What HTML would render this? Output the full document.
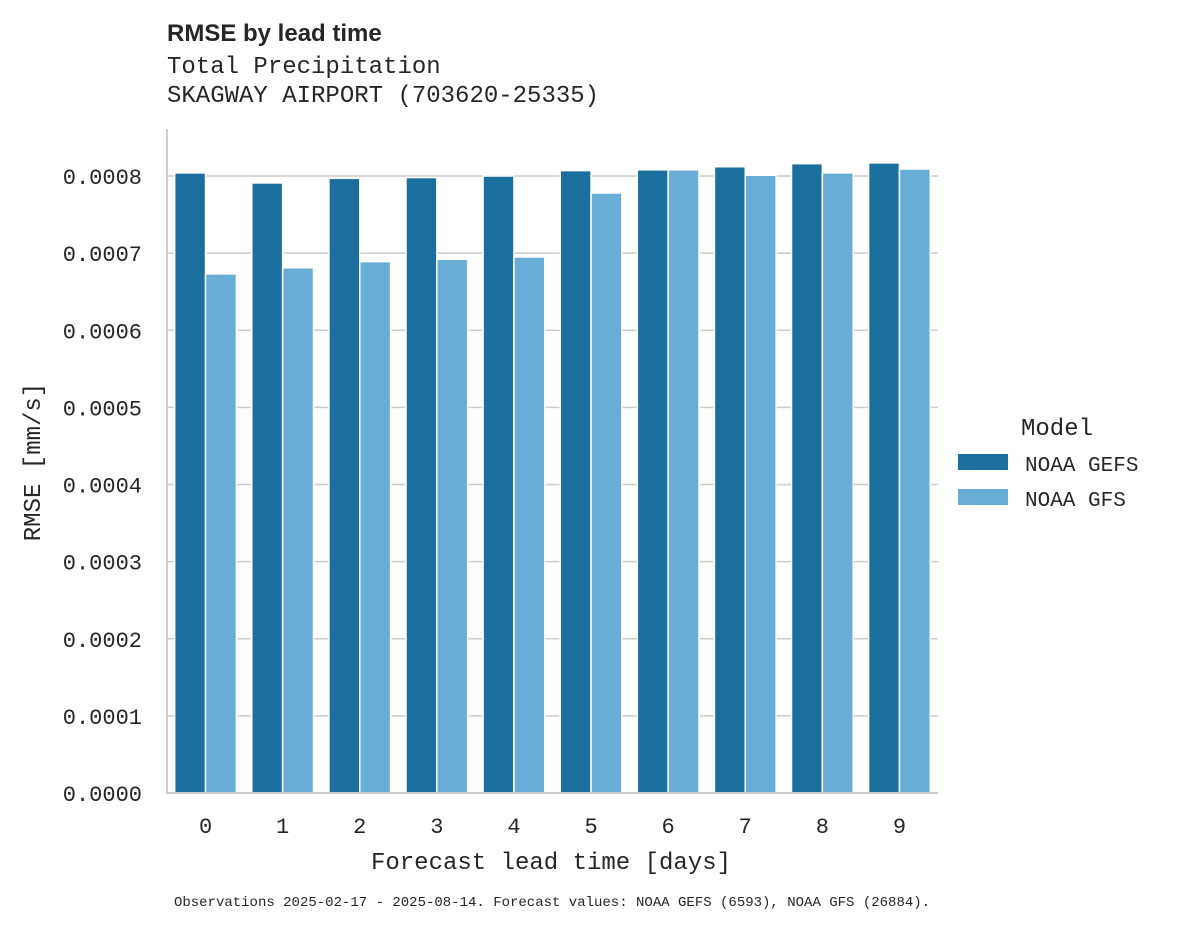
<!DOCTYPE html>
<html><head><meta charset="utf-8"><style>
body{margin:0;background:#fff;}
svg text{font-family:"Liberation Mono","DejaVu Sans Mono",monospace;fill:#262626;}
</style></head><body>
<svg id="chart" width="1178" height="928" xmlns="http://www.w3.org/2000/svg">
<text x="167" y="41" font-size="24" font-weight="bold" font-family="Liberation Sans, sans-serif" style="font-family:'Liberation Sans',sans-serif">RMSE by lead time</text>
<text x="167" y="73" font-size="24">Total Precipitation</text>
<text x="167" y="102" font-size="24">SKAGWAY AIRPORT (703620-25335)</text>
<g id="grid"></g>
<g id="bars"></g>
<line x1="167" y1="129" x2="167" y2="794" stroke="#cccccc" stroke-width="2"/>
<line x1="166" y1="793" x2="938" y2="793" stroke="#cccccc" stroke-width="2"/>
<g id="yticks"></g>
<g id="xticks"></g>
<text x="551" y="869" font-size="24" text-anchor="middle">Forecast lead time [days]</text>
<text transform="translate(40,462) rotate(-90)" font-size="24" text-anchor="middle">RMSE [mm/s]</text>
<g>
<text x="1057" y="435" font-size="24" text-anchor="middle">Model</text>
<rect x="958" y="454" width="50" height="16" fill="#1a6f9f"/>
<text x="1025" y="471" font-size="21">NOAA GEFS</text>
<rect x="958" y="489" width="50" height="16" fill="#67add5"/>
<text x="1025" y="506" font-size="21">NOAA GFS</text>
</g>
<text x="552" y="906" font-size="14" text-anchor="middle">Observations 2025-02-17 - 2025-08-14. Forecast values: NOAA GEFS (6593), NOAA GFS (26884).</text>
</svg>
<script>
const categories=["0","1","2","3","4","5","6","7","8","9"];
const gefsValues=[0.000804,0.000791,0.000797,0.000798,0.000800,0.000807,0.000808,0.000812,0.000816,0.000817];
const gfsValues=[0.000673,0.000681,0.000689,0.000692,0.000695,0.000778,0.000808,0.000801,0.000804,0.000809];
const yTickValues=[0,0.0001,0.0002,0.0003,0.0004,0.0005,0.0006,0.0007,0.0008];
const NS="http://www.w3.org/2000/svg";
const x0=167,x1=938,yBase=793,yTop8=176;
function yScale(v){return yBase-(v/0.0008)*(yBase-yTop8);}
const band=(x1-x0)/categories.length;
function xCenter(i){return x0+band*(i+0.5);}
function mk(tag,attrs){const e=document.createElementNS(NS,tag);for(const k in attrs)e.setAttribute(k,attrs[k]);return e;}
const grid=document.getElementById('grid'),yt=document.getElementById('yticks');
yTickValues.forEach(v=>{
  const y=yScale(v);
  if(v>0){const l=mk('line',{x1:x0,x2:x1,y1:y,y2:y,stroke:'#cccccc','stroke-width':1.5});
  
  
  grid.appendChild(l);}
  const t=mk('text',{x:142,y:y+8,'font-size':22,'text-anchor':'end'});
  t.textContent=v.toFixed(4);
  
  
  yt.appendChild(t);
});
const bars=document.getElementById('bars'),xt=document.getElementById('xticks');
const bw=band*0.8/2;
categories.forEach((c,i)=>{
  const cx=xCenter(i);
  [[gefsValues[i],'#1a6f9f',cx-bw,'bar-gefs-'+c],[gfsValues[i],'#67add5',cx,'bar-gfs-'+c]].forEach(([v,col,x,n])=>{
    const y=yScale(v);
    const r=mk('rect',{x:x,y:y,width:bw,height:yBase-y,fill:col,stroke:'#fff','stroke-width':1.5});
    
    
    bars.appendChild(r);
  });
  const t=mk('text',{x:cx,y:833,'font-size':22,'text-anchor':'middle'});
  t.textContent=c;
  
  
  xt.appendChild(t);
});
</script>
</body></html>
